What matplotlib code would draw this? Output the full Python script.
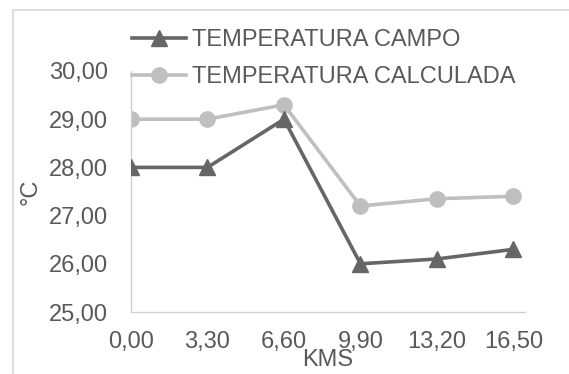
import matplotlib
matplotlib.use("Agg")
import matplotlib.pyplot as plt
from matplotlib.patches import Rectangle

kms = [0.0, 3.3, 6.6, 9.9, 13.2, 16.5]
kms_labels = ["0,00", "3,30", "6,60", "9,90", "13,20", "16,50"]
temp_campo = [28.0, 28.0, 29.0, 26.0, 26.1, 26.3]
temp_calculada = [29.0, 29.0, 29.3, 27.2, 27.35, 27.4]
y_ticks = [25, 26, 27, 28, 29, 30]
y_labels = ["25,00", "26,00", "27,00", "28,00", "29,00", "30,00"]

plt.rcParams['font.family'] = ['Liberation Sans', 'DejaVu Sans']
txt = '#595959'
fs = 17

fig = plt.figure(figsize=(5.69, 3.74), dpi=100)
fig.patches.append(Rectangle((13/569, -0.1), 1.2, 1 - 10/374 + 0.1, transform=fig.transFigure,
                             fill=False, edgecolor='#d9d9d9', linewidth=1.2))
ax = fig.add_axes([131/569, 1-312/374, (525-131)/569, (312-71)/374])

l1, = ax.plot(kms, temp_campo, color='#666666', lw=2.6, marker='^', markersize=11,
              label='TEMPERATURA CAMPO', zorder=3)
l2, = ax.plot(kms, temp_calculada, color='#bfbfbf', lw=2.6, marker='o', markersize=11,
              label='TEMPERATURA CALCULADA', zorder=2)

ax.set_xlim(0, 17)
ax.set_ylim(25, 30)
ax.set_xticks(kms)
ax.set_xticklabels(kms_labels)
ax.set_yticks(y_ticks)
ax.set_yticklabels(y_labels)
ax.tick_params(length=0, labelsize=fs, labelcolor=txt)
ax.tick_params(axis='x', pad=13.5)
ax.tick_params(axis='y', pad=16.5)
for s in ['top', 'right']:
    ax.spines[s].set_visible(False)
for s in ['left', 'bottom']:
    ax.spines[s].set_color('#d0d0d0')
    ax.spines[s].set_linewidth(1)

ax.set_xlabel('KMS', fontsize=fs, color=txt, labelpad=-2.5)
ax.set_ylabel('°C', fontsize=fs, color=txt, labelpad=5.5)

fig.legend(handles=[l1, l2], loc='upper left', bbox_to_anchor=(122.5/569, 1-20/374),
           frameon=False, fontsize=fs, labelcolor=txt, handlelength=2.29,
           handletextpad=0.25, labelspacing=0.62, borderaxespad=0)

fig.savefig('out.png', dpi=100)
